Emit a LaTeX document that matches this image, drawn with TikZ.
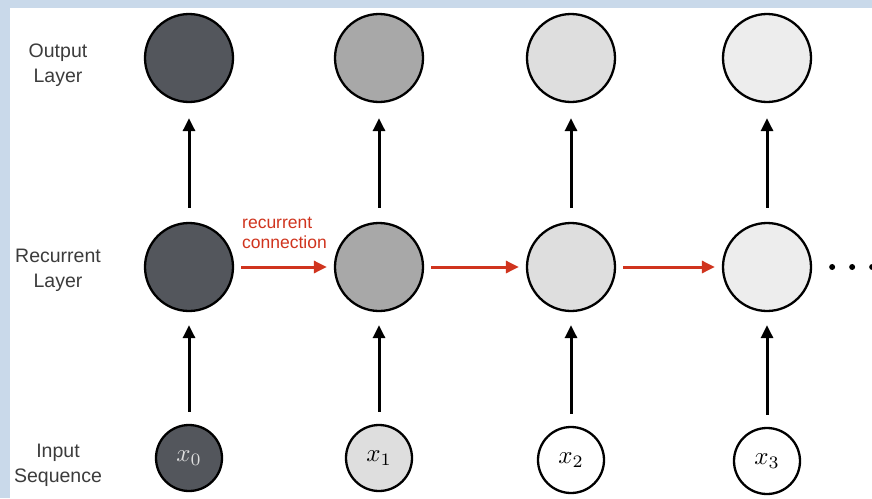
\documentclass[tikz,border=0pt]{standalone}
\usepackage{fontspec}
\setmainfont{Liberation Sans}
\usetikzlibrary{arrows.meta}
\definecolor{bord}{RGB}{201,217,234}
\definecolor{cdark}{RGB}{83,86,92}
\definecolor{cmid}{RGB}{168,168,168}
\definecolor{clight}{RGB}{222,222,222}
\definecolor{clighter}{RGB}{237,237,237}
\definecolor{rred}{RGB}{208,52,30}
\definecolor{lbl}{RGB}{60,60,60}
\newcommand{\bigmath}[1]{\scalebox{2.5}{$#1$}}
\tikzset{
  big/.style={circle,draw=black,line width=2.3pt,minimum size=88pt,inner sep=0pt},
  small/.style={circle,draw=black,line width=2.3pt,minimum size=66pt,inner sep=0pt},
  uparrow/.style={line width=3pt,-{Triangle[length=13pt,width=12pt]}},
  recarrow/.style={line width=3pt,rred,-{Triangle[length=13pt,width=12pt]}},
  lyr/.style={align=center,text=lbl,font=\fontsize{19.5}{25}\selectfont},
}
\begin{document}
\begin{tikzpicture}[x=1pt,y=-1pt]
\useasboundingbox (0,0) rectangle (872,498);
\fill[bord] (0,0) rectangle (872,498);
\fill[white] (10,8) rectangle (872,498);
% labels
\node[lyr] (lo) at (58,65) {Output\\Layer};
\node[lyr] (lr) at (58,270) {Recurrent\\Layer};
\node[lyr] (li) at (58,465) {Input\\Sequence};
% output layer
\node[big,fill=cdark] (o0) at (189,58) {};
\node[big,fill=cmid] (o1) at (379,58) {};
\node[big,fill=clight] (o2) at (571,58) {};
\node[big,fill=clighter] (o3) at (767,58) {};
% recurrent layer
\node[big,fill=cdark] (r0) at (189,267) {};
\node[big,fill=cmid] (r1) at (379,267) {};
\node[big,fill=clight] (r2) at (571,267) {};
\node[big,fill=clighter] (r3) at (767,267) {};
% inputs
\node[small,fill=cdark,text=clight] (i0) at (189,458) {\bigmath{x_0}};
\node[small,fill=clight] (i1) at (379,458) {\bigmath{x_1}};
\node[small,fill=white] (i2) at (571,460) {\bigmath{x_2}};
\node[small,fill=white] (i3) at (767,461) {\bigmath{x_3}};
% vertical arrows
\foreach \k in {0,1,2,3}{
  \draw[uparrow] ([yshift=12pt]i\k.north) -- ([yshift=-13pt]r\k.south);
  \draw[uparrow] ([yshift=14pt]r\k.north) -- ([yshift=-15pt]o\k.south);
}
% recurrent arrows
\draw[recarrow] ([xshift=7pt]r0.east) -- ([xshift=-7pt]r1.west);
\draw[recarrow] ([xshift=7pt]r1.east) -- ([xshift=-7pt]r2.west);
\draw[recarrow] ([xshift=7pt]r2.east) -- ([xshift=-7pt]r3.west);
\node[anchor=south west,align=left,text=rred,font=\fontsize{17.5}{20}\selectfont,inner sep=0pt] (rc) at (242,249) {recurrent\\connection};
% dots
\fill ([xshift=20pt]r3.east) circle (3pt) ++(20pt,0) circle (3pt) ++(20pt,0) circle (3pt);
\end{tikzpicture}
\end{document}
